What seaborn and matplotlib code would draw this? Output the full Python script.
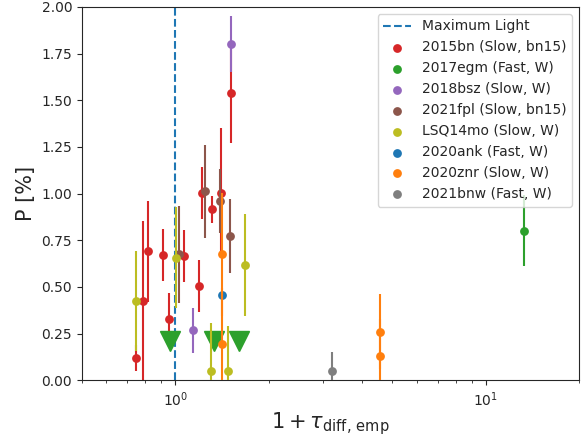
import matplotlib
matplotlib.use("Agg")
import matplotlib.pyplot as plt
import seaborn as sns
import pandas as pd
import numpy as np

sns.set_style("ticks")
plt.rcParams['font.family'] = ['DejaVu Sans']

names = ["2015bn (Slow, bn15)", "2017egm (Fast, W)", "2018bsz (Slow, W)",
         "2021fpl (Slow, bn15)", "LSQ14mo (Slow, W)", "2020ank (Fast, W)",
         "2020znr (Slow, W)", "2021bnw (Fast, W)"]
colors = ["#d62728", "#2ca02c", "#9467bd", "#8c564b", "#bcbd22", "#1f77b4",
          "#ff7f0e", "#7f7f7f"]

x_2015bn = [0.747, 0.787, 0.814, 0.913, 0.951, 1.064, 1.189, 1.219, 1.311, 1.407, 1.510]
p_2015bn = [0.12, 0.425, 0.69, 0.67, 0.327, 0.665, 0.506, 1.004, 0.915, 1.004, 1.54]
e_2015bn = [0.07, 0.43, 0.27, 0.14, 0.14, 0.14, 0.14, 0.14, 0.07, 0.35, 0.27]

x_2017egm = [13.3]
p_2017egm = [0.80]
e_2017egm = [0.19]
lim_x_2017egm = [0.963, 1.336, 1.609]
lim_p_2017egm = [0.21, 0.21, 0.21]

x_2018bsz = [1.137, 1.51]
p_2018bsz = [0.268, 1.80]
e_2018bsz = [0.12, 0.15]

x_2021fpl = [1.025, 1.243, 1.397, 1.497]
p_2021fpl = [0.675, 1.013, 0.96, 0.772]
e_2021fpl = [0.26, 0.25, 0.17, 0.20]

x_lsq14mo = [0.747, 1.007, 1.304, 1.479, 1.682]
p_lsq14mo = [0.425, 0.656, 0.048, 0.048, 0.617]
e_lsq14mo = [0.27, 0.27, 0.26, 0.24, 0.275]

x_2020ank = [1.414]
p_2020ank = [0.456]
e_2020ank = [0.0]

x_2020znr = [1.414, 1.414, 4.57, 4.57]
p_2020znr = [0.674, 0.196, 0.26, 0.13]
e_2020znr = [0.33, 0.30, 0.20, 0.20]

x_2021bnw = [3.2]
p_2021bnw = [0.05]
e_2021bnw = [0.10]

series = [(x_2015bn, p_2015bn, e_2015bn), (x_2017egm, p_2017egm, e_2017egm),
          (x_2018bsz, p_2018bsz, e_2018bsz), (x_2021fpl, p_2021fpl, e_2021fpl),
          (x_lsq14mo, p_lsq14mo, e_lsq14mo), (x_2020ank, p_2020ank, e_2020ank),
          (x_2020znr, p_2020znr, e_2020znr), (x_2021bnw, p_2021bnw, e_2021bnw)]

fig = plt.figure(figsize=(5.85, 4.37), dpi=100)
ax = fig.add_axes([0.140, 0.130, 0.850, 0.854])

ax.axvline(1.0, color="#1f77b4", ls="--", lw=1.5, label="Maximum Light", zorder=1)

z = 2
for name, col, (xs, ps, es) in zip(names, colors, series):
    ax.errorbar(xs, ps, yerr=es, fmt="none", ecolor=col, elinewidth=1.5, zorder=z)
    df = pd.DataFrame({"x": xs, "P": ps, "SN": name})
    sns.scatterplot(data=df, x="x", y="P", color=col, s=40, linewidth=0,
                    ax=ax, label=name, zorder=z + 0.5)
    if name.startswith("2017egm"):
        ax.plot(lim_x_2017egm, lim_p_2017egm, ls="none", marker="v",
                color=col, markersize=14, zorder=z + 0.5)
    z += 1

ax.set_xscale("log")
ax.set_xlim(0.5, 20)
ax.set_ylim(0, 2)
ax.set_yticks(np.arange(0, 2.01, 0.25))
ax.yaxis.set_major_formatter(matplotlib.ticker.FormatStrFormatter("%.2f"))
ax.tick_params(labelsize=10)
ax.set_xlabel(r"$1 + \tau_{\rm diff,\, emp}$", fontsize=15, labelpad=1)
ax.set_ylabel("P [%]", fontsize=15)
for s in ax.spines.values():
    s.set_visible(True)

ax.legend(loc="upper right", fontsize=10, framealpha=0.8)
fig.savefig("out.png", dpi=100)
